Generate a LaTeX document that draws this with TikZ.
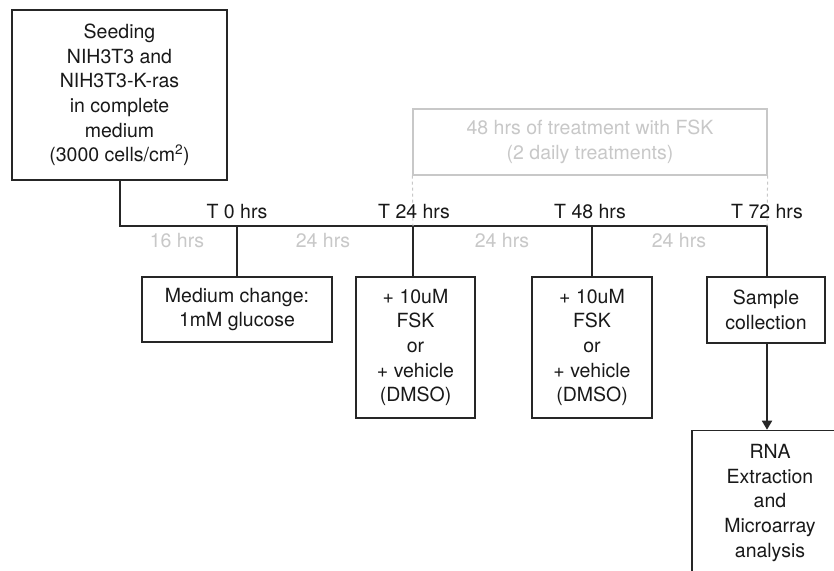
\documentclass[tikz,border=0pt]{standalone}
\usepackage{fontspec}
\setmainfont{TeX Gyre Heros}
\usetikzlibrary{arrows.meta}
\definecolor{lightg}{RGB}{200,200,200}
\tikzset{
  box/.style={draw=black!85, line width=1.6pt, align=center, inner sep=0pt,
    font=\fontsize{19.5}{24.6}\selectfont, text=black!90},
  gbox/.style={draw=lightg, line width=1.3pt, align=center, inner sep=0pt,
    font=\fontsize{19.5}{24.6}\selectfont, text=lightg},
  tlabel/.style={anchor=base, font=\fontsize{19.5}{24}\selectfont, text=black!90, inner sep=0pt},
  glabel/.style={anchor=base, font=\fontsize{19.5}{24}\selectfont, text=lightg, inner sep=0pt},
  tline/.style={line width=2.2pt, draw=black!85},
  gdash/.style={draw=lightg, line width=1pt, dash pattern=on 3pt off 3pt},
}
\begin{document}
\begin{tikzpicture}[x=1pt,y=-1pt]
\clip (0,0) rectangle (834,570);
\useasboundingbox (0,0) rectangle (834,570);
\fill[white] (0,0) rectangle (834,570);

% boxes
\node[box, minimum width=215pt, minimum height=170pt] (seed) at (119.5,95)
  {Seeding\\NIH3T3 and\\NIH3T3-K-ras\\in complete\\medium\\(3000 cells/cm\textsuperscript{2})};
\node[gbox, minimum width=354pt, minimum height=66pt] (treat) at (590,142)
  {48 hrs of treatment with FSK\\(2 daily treatments)};
\node[box, minimum width=190pt, minimum height=65pt] (med) at (237,309.5)
  {Medium change:\\1mM glucose};
\node[box, minimum width=119pt, minimum height=141pt] (fsk1) at (415.5,347.5)
  {+ 10uM\\FSK\\or\\+ vehicle\\(DMSO)};
\node[box, minimum width=120pt, minimum height=141pt] (fsk2) at (592,347.5)
  {+ 10uM\\FSK\\or\\+ vehicle\\(DMSO)};
\node[box, minimum width=118pt, minimum height=66pt] (samp) at (766,310)
  {Sample\\collection};
\node[box, minimum width=156pt, minimum height=145pt] (rna) at (770,503)
  {RNA\\Extraction\\and\\Microarray\\analysis};

% timeline coordinates
\coordinate (corner) at (120,226);
\coordinate (t0) at (237,226);
\coordinate (t24) at (413,226);
\coordinate (t48) at (592,226);
\coordinate (t72) at (767,226);

\draw[tline, line join=miter] (seed.south -| corner) -- (corner) -- (t72) -- (t72 |- samp.north);
\draw[tline] (t0) -- (t0 |- med.north);
\draw[tline] (t24) -- (t24 |- fsk1.north);
\draw[tline] (t48) -- (t48 |- fsk2.north);

% dashed guides
\draw[gdash] (treat.south west) -- (t24);
\draw[gdash] (treat.south east) -- (t72);

% arrow
\draw[line width=1.8pt, draw=black!85, -{Triangle[length=9pt,width=10pt]}]
  (samp.south -| t72) -- (t72 |- rna.north);

% time labels
\node[tlabel] (l0) at (237,218) {T 0 hrs};
\node[tlabel] (l24) at (414,218) {T 24 hrs};
\node[tlabel] (l48) at (590,218) {T 48 hrs};
\node[tlabel] (l72) at (767,218) {T 72 hrs};

\node[glabel] (d16) at (177,247) {16 hrs};
\node[glabel] (d24a) at (323,247) {24 hrs};
\node[glabel] (d24b) at (502,247) {24 hrs};
\node[glabel] (d24c) at (679,247) {24 hrs};
\end{tikzpicture}
\end{document}
